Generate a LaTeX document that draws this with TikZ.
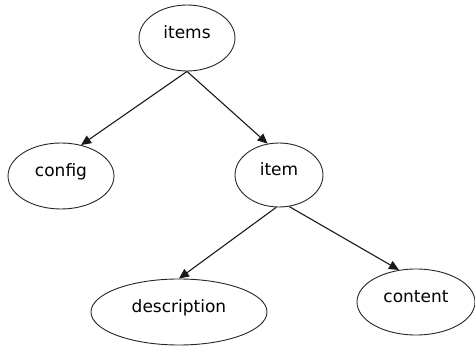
\documentclass[tikz,border=0pt]{standalone}
\usepackage{fontspec}
\setmainfont{DejaVu Sans}
\usetikzlibrary{positioning,shapes,arrows.meta}

\begin{document}
\begin{tikzpicture} [-{Triangle[length=10pt,width=9pt]},on grid,line width=1.1pt,
    elem/.style={ellipse,draw=black!85,line width=0.9pt,minimum height=66pt,inner sep=0pt,
      text height=13pt,text depth=12pt,font=\fontsize{17pt}{20pt}\selectfont}]

  \useasboundingbox (0,0) rectangle (475pt,-347pt);

  \node[elem,minimum width=96pt] (items) at (187pt,-38pt) {items};
  \node[elem,minimum width=106pt] (config) [below left=138pt and 126pt of items] {config};
  \node[elem,minimum width=88pt,minimum height=64pt] (item) [below right=137pt and 92pt of items] {item};
  \node[elem,minimum width=176pt] (description) [below left=137pt and 100pt of item] {description};
  \node[elem,minimum width=118pt] (content) [below right=127pt and 137pt of item] {content};

  \path[color=black!90]
    (items.south) edge (config.57)
                  edge (item.110)
    (item.265) edge (description.north)
    (item.288) edge (content.118);

\end{tikzpicture}
\end{document}
